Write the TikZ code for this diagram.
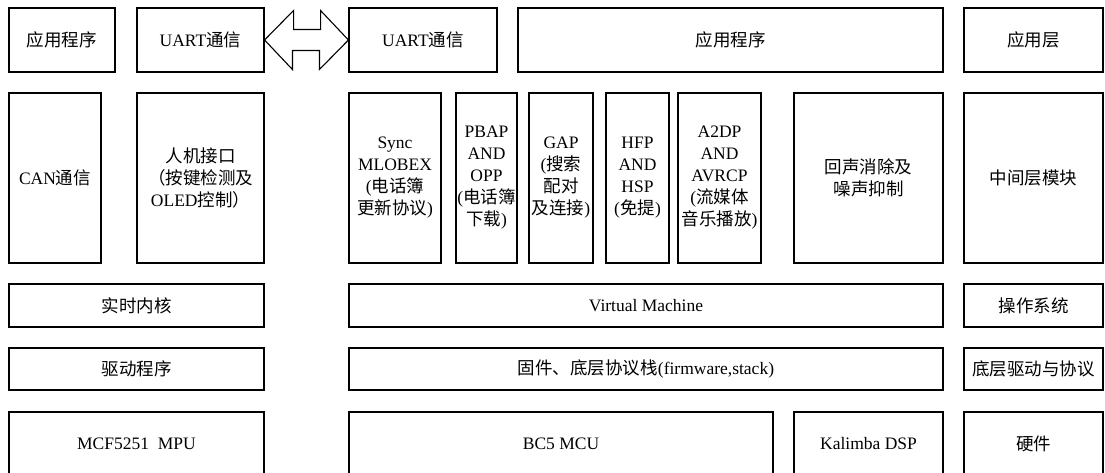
\documentclass[tikz,border=0pt]{standalone}
\usepackage{fontspec}
\setmainfont{Liberation Serif}
\newfontfamily\zhfont{Noto Sans CJK SC}
\newcommand{\zhtxt}[1]{{\zhfont #1}}

\begin{document}
\begin{tikzpicture}[
		  x=1pt, y=-1pt,
		  every node/.style={font=\fontsize{17.5}{22}\selectfont}
		]

		\tikzset{
		    caixa/.style={draw=black, line width=1.1pt, inner sep=0pt, align=center},
		    linha1/.style={caixa, minimum height=64},
		    linha2/.style={caixa, minimum height=170},
		    linha3/.style={caixa, minimum height=43},
		    linha4/.style={caixa, minimum height=42},
		    linha5/.style={caixa, minimum height=64},
		    seta/.style={draw=black, line width=1.1pt, line join=miter, fill=white}
		}

		\clip (0,0) rectangle (1105,473);

		% Camada de aplicação
		\node[linha1, minimum width=106] (app1) at (62,40) {\zhtxt{应用程序}};
		\node[linha1, minimum width=127] (uartA) at (200.5,40) {UART\zhtxt{通信}};
		\node[linha1, minimum width=148] (uartB) at (423,40) {UART\zhtxt{通信}};
		\node[linha1, minimum width=425] (app2) at (730.5,40) {\zhtxt{应用程序}};
		\node[linha1, minimum width=139] (camApp) at (1033.5,40) {\zhtxt{应用层}};

		% Seta dupla entre as duas UART
		\draw[seta] (uartA.east) -- ++(29,-29.5) -- ++(0,19) -- ++(27,0) -- ++(0,-19)
		  -- (uartB.west) -- ++(-29,29.5) -- ++(0,-19) -- ++(-27,0) -- ++(0,19) -- cycle;

		% Camada intermediária
		\node[linha2, minimum width=92] (can) at (55,178) {CAN\zhtxt{通信}};
		\node[linha2, minimum width=127] (hmi) at (200.5,178)
		  {\zhtxt{人机接口}\\\zhtxt{（按键检测及}\\OLED\zhtxt{控制）}};
		\node[linha2, minimum width=92] (sync) at (395,178)
		  {Sync\\MLOBEX\\(\zhtxt{电话簿}\\\zhtxt{更新协议})};
		\node[linha2, minimum width=61] (pbap) at (486.5,178)
		  {PBAP\\AND\\OPP\\(\zhtxt{电话簿}\\\zhtxt{下载})};
		\node[linha2, minimum width=64] (gap) at (561,178)
		  {GAP\\(\zhtxt{搜索}\\\zhtxt{配对}\\\zhtxt{及连接})};
		\node[linha2, minimum width=63] (hfp) at (637.5,178)
		  {HFP\\AND\\HSP\\(\zhtxt{免提})};
		\node[linha2, minimum width=83] (a2dp) at (719.5,178)
		  {A2DP\\AND\\AVRCP\\(\zhtxt{流媒体}\\\zhtxt{音乐播放})};
		\node[linha2, minimum width=149] (eco) at (868.5,178)
		  {\zhtxt{回声消除及}\\\zhtxt{噪声抑制}};
		\node[linha2, minimum width=139] (camMeio) at (1033.5,178) {\zhtxt{中间层模块}};

		% Sistema operacional
		\node[linha3, minimum width=255] (rtos) at (136.5,305.5) {\zhtxt{实时内核}};
		\node[linha3, minimum width=594] (vm) at (646,305.5) {Virtual Machine};
		\node[linha3, minimum width=139] (camSO) at (1033.5,305.5) {\zhtxt{操作系统}};

		% Drivers e firmware
		\node[linha4, minimum width=255] (drv) at (136.5,369) {\zhtxt{驱动程序}};
		\node[linha4, minimum width=594] (fw) at (646,369)
		  {\zhtxt{固件、底层协议栈}(firmware,stack)};
		\node[linha4, minimum width=139] (camDrv) at (1033.5,369) {\zhtxt{底层驱动与协议}};

		% Hardware
		\node[linha5, minimum width=255] (mcf) at (136.5,444) {MCF5251\ \ MPU};
		\node[linha5, minimum width=424] (bc5) at (561,444) {BC5 MCU};
		\node[linha5, minimum width=149] (dsp) at (868.5,444) {Kalimba DSP};
		\node[linha5, minimum width=139] (camHw) at (1033.5,444) {\zhtxt{硬件}};

		\end{tikzpicture}
\end{document}
